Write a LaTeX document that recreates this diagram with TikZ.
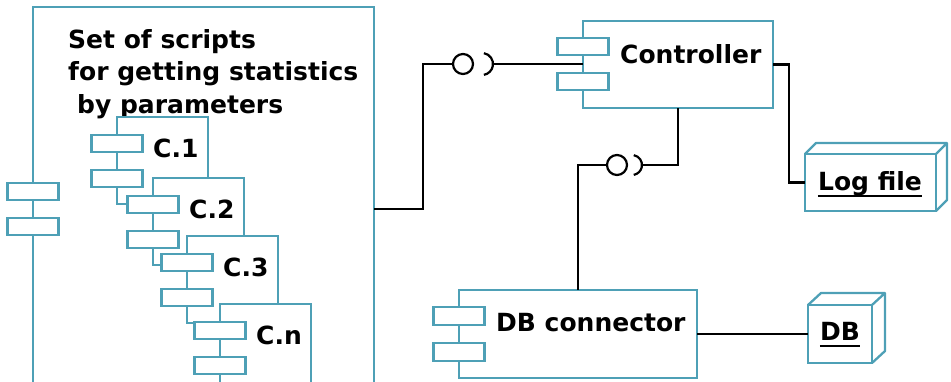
\documentclass[tikz,border=0pt]{standalone}
\usepackage{fontspec}
\setmainfont{DejaVu Sans}
\usetikzlibrary{calc}
\definecolor{umlteal}{RGB}{78,160,182}
\begin{document}
\begin{tikzpicture}[
  x=1pt, y=-1pt,
  box/.style={draw=umlteal, line width=2.3pt, fill=white, inner sep=0pt,
              outer sep=0pt, anchor=north west},
  tab/.style={box, minimum width=51pt, minimum height=17pt, anchor=north},
  wire/.style={draw=black, line width=2.2pt},
  ball/.style={draw=black, line width=2.2pt, circle, minimum size=20pt,
               inner sep=0pt, outer sep=0pt},
  cube/.style={draw=umlteal, line width=2.3pt, line join=round},
  lbl/.style={font=\fontsize{25}{32.5}\selectfont\bfseries, inner sep=0pt,
              anchor=base west},
  uline/.style={draw=black, line width=1.6pt},
]
\useasboundingbox (0,0) rectangle (951,381);
\clip (0,0) rectangle (951,381);

% outer component holding the scripts
\node[box, minimum width=341pt, minimum height=400pt] (scripts) at (33,7) {};
\node[tab] (scripts-a) at (33,183) {};
\node[tab] (scripts-b) at (33,218) {};
\node[lbl, anchor=north west, align=left] (title) at (68,29)
  {Set of scripts\\for getting statistics\\\hspace*{9pt}by parameters};

% stacked script components
\foreach \n/\px/\py/\t in {c1/117/117/C.1, c2/153/178/C.2, c3/187/236/C.3, cn/220/304/C.n} {
  \node[box, minimum width=91pt, minimum height=87pt] (\n) at (\px,\py) {};
  \node[tab] (\n-a) at ($(\n.north west)+(0,18)$) {};
  \node[tab] (\n-b) at ($(\n.north west)+(0,53)$) {};
  \node[lbl] (\n-l) at ($(\n.north west)+(36,40)$) {\t};
}

% controller
\node[box, minimum width=190pt, minimum height=87pt] (ctrl) at (583,21) {};
\node[tab] (ctrl-a) at (583,38) {};
\node[tab] (ctrl-b) at (583,73) {};
\node[lbl] (ctrl-l) at (620,63) {Controller};

% database connector
\node[box, minimum width=238pt, minimum height=88pt] (dbc) at (459,290) {};
\node[tab, minimum height=18pt] (dbc-a) at (459,307) {};
\node[tab, minimum height=18pt] (dbc-b) at (459,343) {};
\node[lbl] (dbc-l) at (496,331) {DB connector};

% log file node (3D box)
\node[box, minimum width=131pt, minimum height=57pt] (logf) at (805,154) {};
\draw[cube] (logf.north west) -- ++(11,-11) -- ++(131,0) -- ++(0,57) -- (logf.south east)
            (logf.north east) -- ++(11,-11);
\node[lbl, anchor=base] (logf-l) at (870,190) {Log file};
\draw[uline] ([yshift=-6pt]logf-l.base west) -- ([yshift=-6pt]logf-l.base east);

% database node (3D box)
\node[box, minimum width=64pt, minimum height=58pt] (db) at (808,305) {};
\draw[cube] (db.north west) -- ++(13,-12) -- ++(64,0) -- ++(0,58) -- (db.south east)
            (db.north east) -- ++(13,-12);
\node[lbl, anchor=base] (db-l) at (840,340) {DB};
\draw[uline] ([yshift=-6pt]db-l.base west) -- ([yshift=-6pt]db-l.base east);

% provided / required interfaces
\node[ball] (b1) at (463,64) {};
\coordinate (sock1) at (482,64);
\draw[wire] ($(sock1)+(-80:11)$) arc[start angle=-80, end angle=80, radius=11];
\node[ball] (b2) at (617,165) {};
\coordinate (sock2) at (632,165);
\draw[wire] ($(sock2)+(-80:10)$) arc[start angle=-80, end angle=80, radius=10];

% connectors
\draw[wire] ($(scripts.north east)+(0,202)$) -- ++(49,0) |- (b1.west);
\draw[wire] ($(sock1)+(11,0)$) -- (ctrl.west |- sock1);
\draw[wire] (ctrl.south) |- ($(sock2)+(10,0)$);
\draw[wire] (b2.west) -| (dbc.north);
\draw[wire] (ctrl.east) -- ++(16,0) |- (logf.west);
\draw[wire] (dbc.east) -- (db.west);
\end{tikzpicture}
\end{document}
